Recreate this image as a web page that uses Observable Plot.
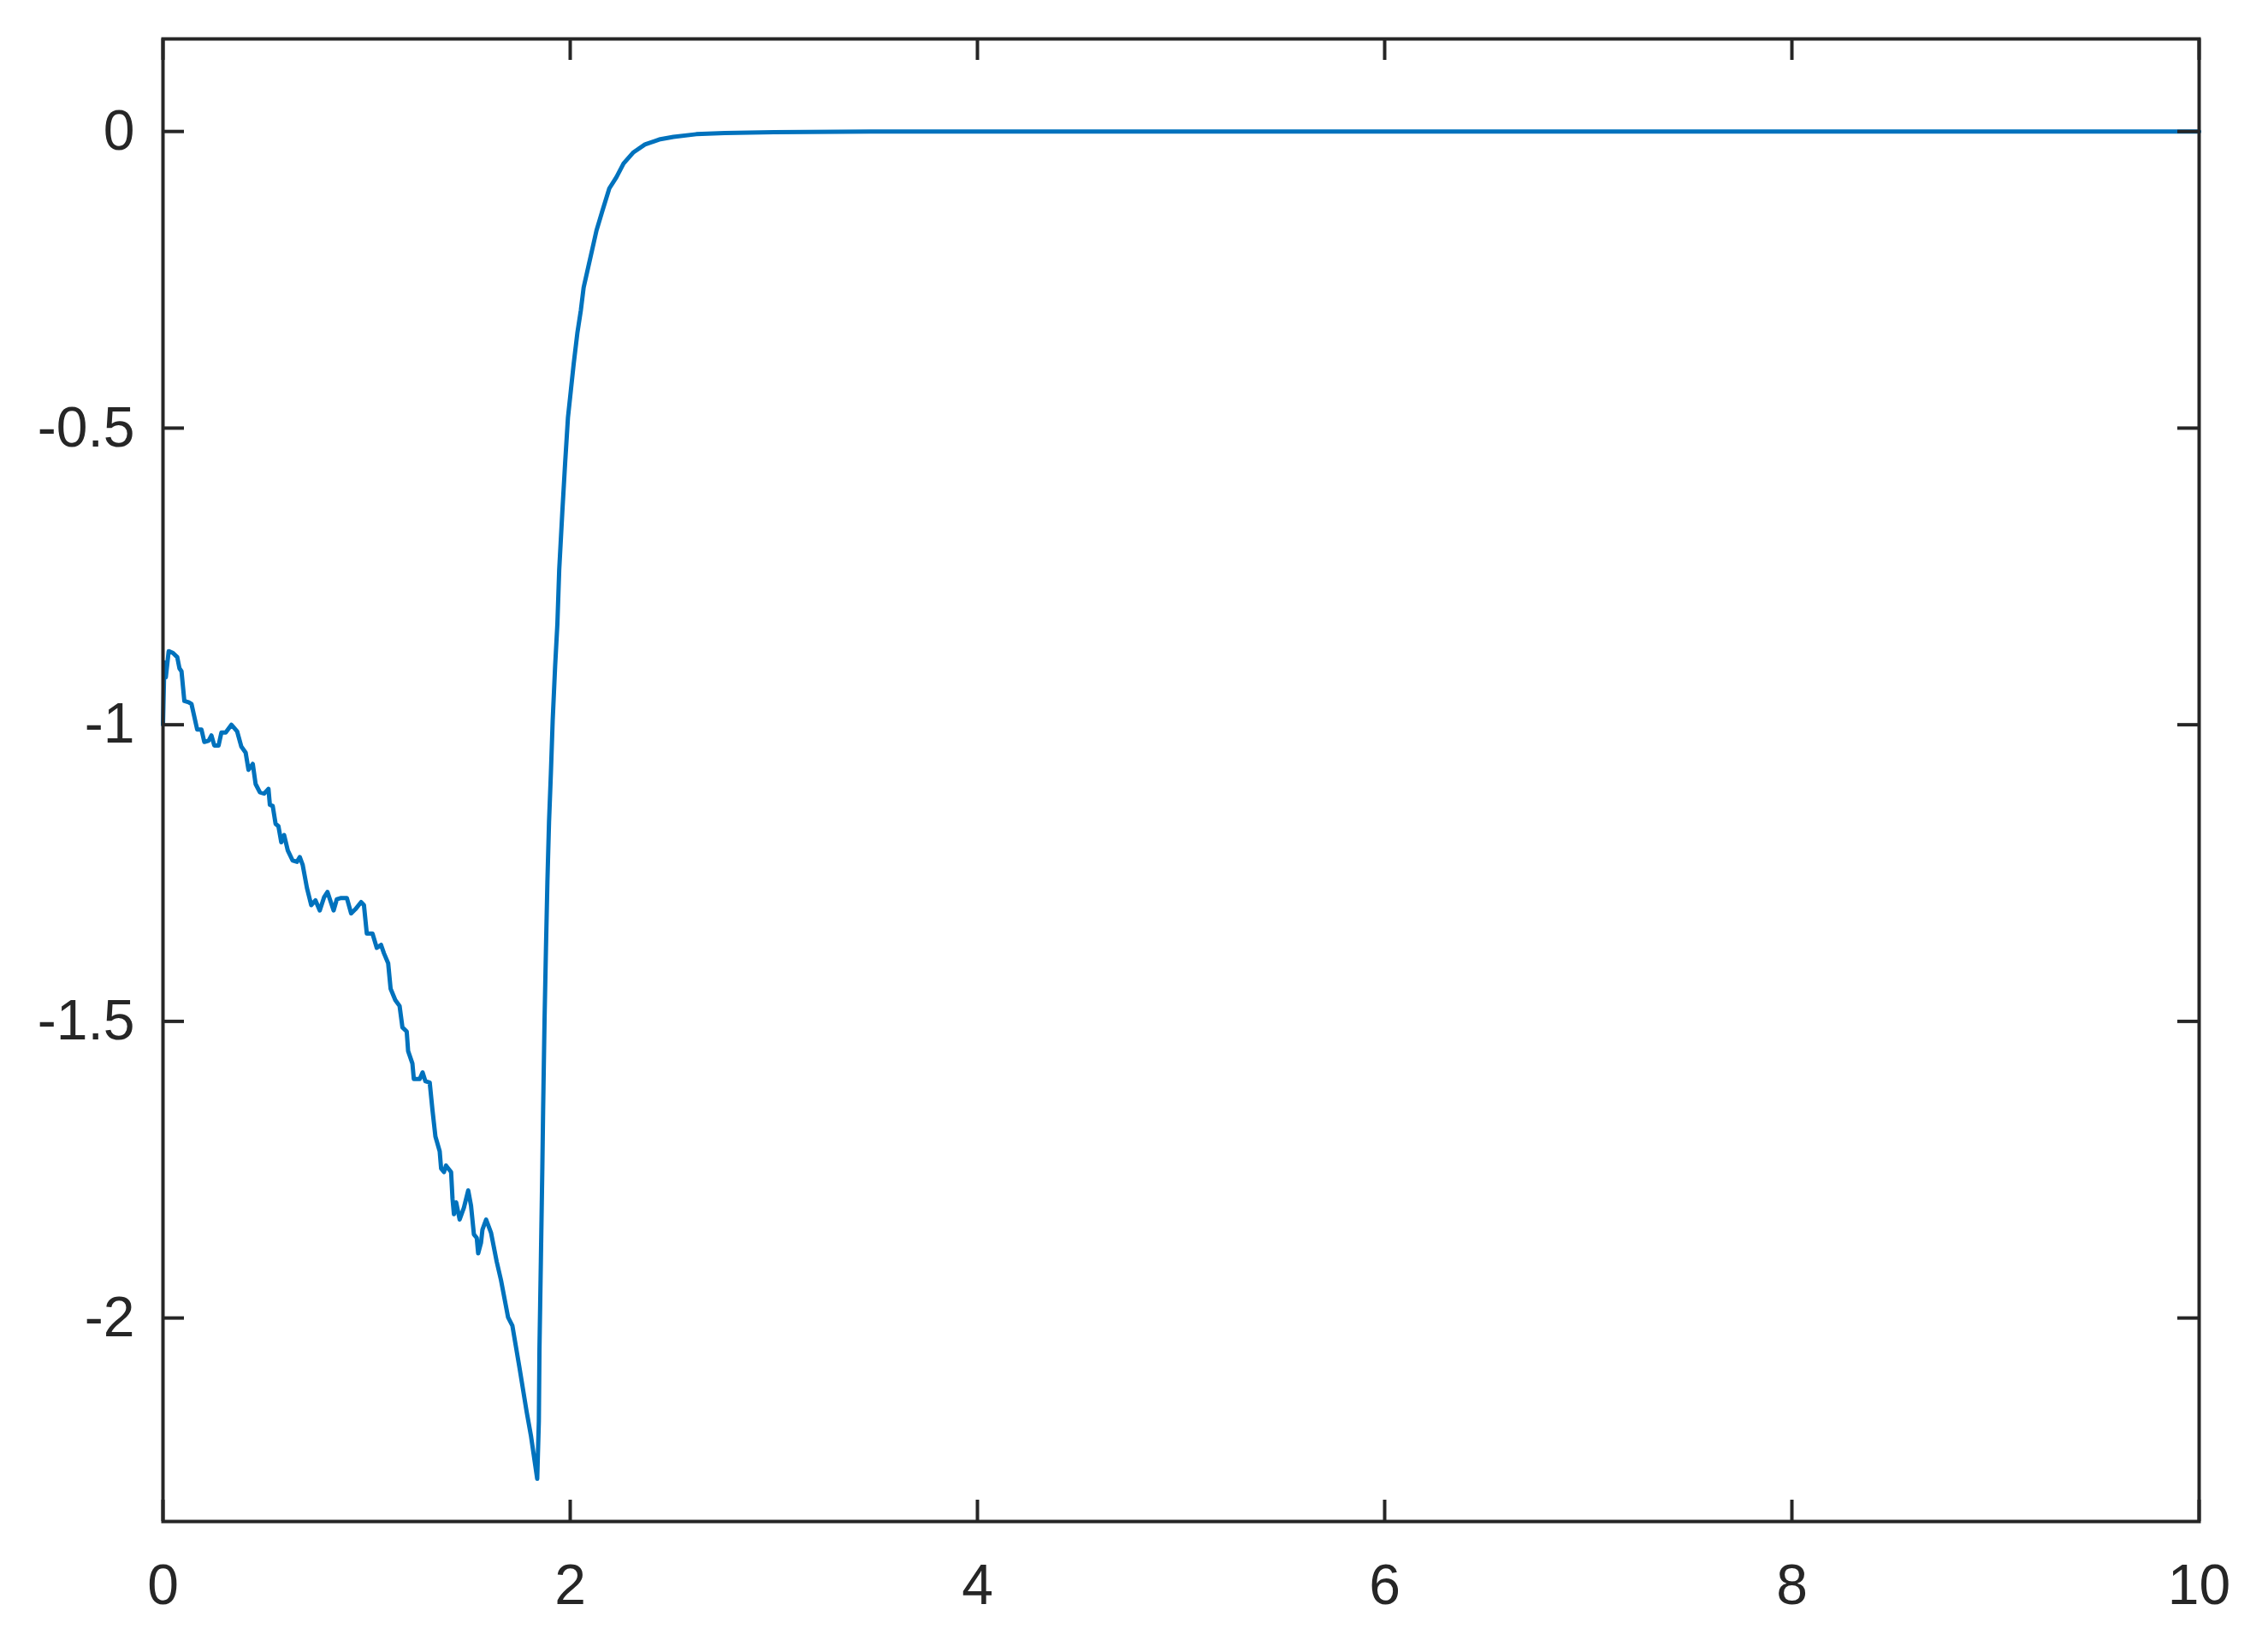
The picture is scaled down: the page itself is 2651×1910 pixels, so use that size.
<!DOCTYPE html>
<html>
<head>
<meta charset="utf-8">
<script src="https://cdn.jsdelivr.net/npm/d3@7"></script>
<script src="https://cdn.jsdelivr.net/npm/@observablehq/plot@0.6"></script>
<style>
  html, body { margin: 0; padding: 0; background: #ffffff; }
  #chart { width: 2651px; height: 1910px; }
</style>
</head>
<body>
<div id="chart"></div>
<script>
// Time values (x)
const tValues = [
  0, 0.007, 0.014, 0.028, 0.049, 0.070, 0.081, 0.091, 0.105, 0.126, 0.140, 0.168, 0.189, 0.203, 0.224,
  0.238, 0.252, 0.273, 0.287, 0.308, 0.336, 0.364, 0.385, 0.406, 0.420, 0.441, 0.455, 0.476, 0.497,
  0.518, 0.525, 0.539, 0.553, 0.567, 0.581, 0.595, 0.613, 0.637, 0.658, 0.672, 0.686, 0.707, 0.728,
  0.749, 0.770, 0.791, 0.808, 0.838, 0.854, 0.875, 0.903, 0.924, 0.945, 0.973, 0.987, 1.001, 1.029,
  1.050, 1.071, 1.085, 1.106, 1.118, 1.141, 1.162, 1.176, 1.197, 1.204, 1.225, 1.232, 1.261, 1.275,
  1.289, 1.310, 1.324, 1.338, 1.359, 1.366, 1.380, 1.390, 1.415, 1.422, 1.429, 1.440, 1.457, 1.478,
  1.499, 1.513, 1.527, 1.541, 1.548, 1.562, 1.569, 1.587, 1.611, 1.639, 1.660, 1.695, 1.716, 1.751,
  1.786, 1.807, 1.838, 1.846, 1.849, 1.856, 1.863, 1.867, 1.874, 1.881, 1.888, 1.896, 1.905, 1.914,
  1.926, 1.937, 1.946, 1.961, 1.975, 1.989, 2.003, 2.017, 2.035, 2.052, 2.066, 2.087, 2.108, 2.129,
  2.157, 2.192, 2.227, 2.262, 2.311, 2.367, 2.437, 2.507, 2.619, 2.759, 3.0, 3.5, 10
];
// Series values (y)
const yValues = [
  -1.000, -0.895, -0.920, -0.876, -0.879, -0.886, -0.905, -0.910, -0.960, -0.962, -0.965, -1.008, -1.008, -1.029, -1.027,
  -1.018, -1.035, -1.035, -1.013, -1.013, -1.000, -1.011, -1.037, -1.047, -1.076, -1.066, -1.100, -1.114, -1.116,
  -1.108, -1.135, -1.137, -1.167, -1.171, -1.198, -1.186, -1.212, -1.229, -1.231, -1.223, -1.236, -1.275, -1.304,
  -1.296, -1.313, -1.291, -1.282, -1.313, -1.294, -1.292, -1.292, -1.318, -1.311, -1.299, -1.304, -1.352, -1.352,
  -1.376, -1.371, -1.385, -1.402, -1.445, -1.464, -1.474, -1.510, -1.517, -1.550, -1.571, -1.597, -1.597, -1.586,
  -1.601, -1.603, -1.651, -1.694, -1.719, -1.748, -1.754, -1.743, -1.754, -1.799, -1.825, -1.805, -1.834, -1.814,
  -1.785, -1.811, -1.859, -1.865, -1.891, -1.873, -1.851, -1.834, -1.856, -1.905, -1.936, -1.999, -2.013, -2.084,
  -2.158, -2.198, -2.271, -2.174, -2.053, -1.902, -1.750, -1.649, -1.497, -1.376, -1.265, -1.164, -1.083, -0.992,
  -0.901, -0.830, -0.739, -0.643, -0.559, -0.482, -0.437, -0.392, -0.340, -0.302, -0.263, -0.231, -0.199, -0.167,
  -0.135, -0.096, -0.077, -0.054, -0.035, -0.022, -0.0135, -0.009, -0.0046, -0.0026, -0.001, 0, 0
];
// Tick labels
const xTicks = [0, 2, 4, 6, 8, 10];
const yTicks = [-2, -1.5, -1, -0.5, 0];
const xDomain = [0, 10];
const yDomain = [-2.343, 0.156];

const data = tValues.map((t, i) => ({t, v: yValues[i]}));

const W = 2651, H = 1910;
const mL = 190, mR = 81, mT = 45, mB = 132;
const innerW = W - mL - mR, innerH = H - mT - mB;
const tickLen = 25;
const axisColor = "#262626";

const chart = Plot.plot({
  width: W,
  height: H,
  marginLeft: mL,
  marginRight: mR,
  marginTop: mT,
  marginBottom: mB,
  style: {fontFamily: "'Liberation Sans', Arial, Helvetica, sans-serif", fontSize: "66px", color: axisColor, background: "#ffffff"},
  x: {domain: xDomain},
  y: {domain: yDomain},
  marks: [
    Plot.line(data, {x: "t", y: "v", stroke: "#0072BD", strokeWidth: 5, strokeLinejoin: "round"}),
    // inward ticks: bottom, top, left, right
    Plot.ruleX(xTicks, {x: d => d, insetTop: innerH - tickLen, stroke: axisColor, strokeWidth: 4}),
    Plot.ruleX(xTicks, {x: d => d, insetBottom: innerH - tickLen, stroke: axisColor, strokeWidth: 4}),
    Plot.ruleY(yTicks, {y: d => d, insetRight: innerW - tickLen, stroke: axisColor, strokeWidth: 4}),
    Plot.ruleY(yTicks, {y: d => d, insetLeft: innerW - tickLen, stroke: axisColor, strokeWidth: 4}),
    Plot.frame({stroke: axisColor, strokeWidth: 4}),
    Plot.axisX({ticks: xTicks, tickSize: 0, tickPadding: 50, tickFormat: d => String(d), fontSize: 66, fill: axisColor, label: null}),
    Plot.axisY({ticks: yTicks, tickSize: 0, tickPadding: 33, tickFormat: d => String(d), fontSize: 66, fill: axisColor, label: null})
  ]
});
document.getElementById("chart").appendChild(chart);
</script>
</body>
</html>
